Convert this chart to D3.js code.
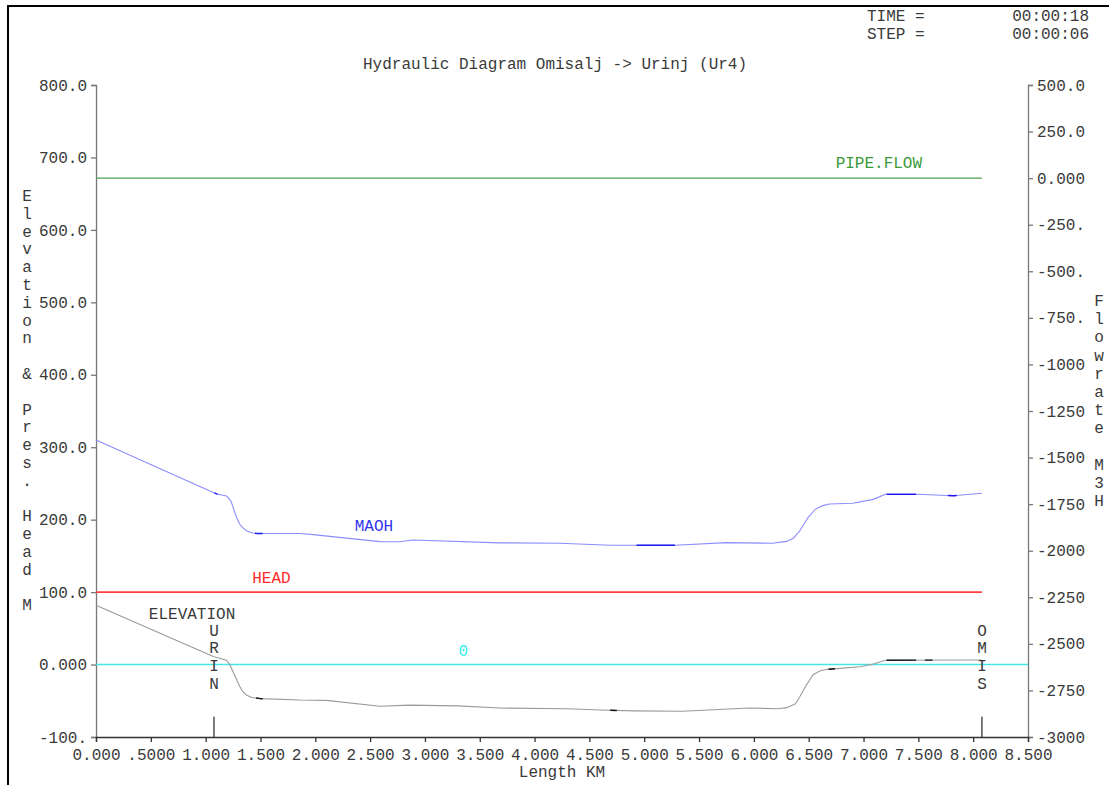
<!DOCTYPE html>
<html><head><meta charset="utf-8">
<script src="https://cdn.jsdelivr.net/npm/d3@7/dist/d3.min.js"></script>
<style>
body{margin:0;background:#fff}
svg{display:block}
text{font-family:"Liberation Mono","Courier New",monospace;font-size:16px;fill:#3a3a3a}
</style>
</head><body>
<svg id="c" width="1109" height="785"></svg>
<script>
// ---------- data ----------
const title = "Hydraulic Diagram Omisalj -> Urinj (Ur4)";
const headerLabels = ["TIME =", "STEP ="];
const headerValues = ["00:00:18", "00:00:06"];
const xTitle = "Length KM";
const leftTitle = "Elevation & Pres. Head M";
const rightTitle = "Flowrate M3H";

const xTicks = [0,0.5,1,1.5,2,2.5,3,3.5,4,4.5,5,5.5,6,6.5,7,7.5,8,8.5];
const xTickLabels = ["0.000",".5000","1.000","1.500","2.000","2.500","3.000","3.500","4.000","4.500","5.000","5.500","6.000","6.500","7.000","7.500","8.000","8.500"];
const leftTicks = [800,700,600,500,400,300,200,100,0,-100];
const leftTickLabels = ["800.0","700.0","600.0","500.0","400.0","300.0","200.0","100.0","0.000","-100."];
const rightTicks = [500,250,0,-250,-500,-750,-1000,-1250,-1500,-1750,-2000,-2250,-2500,-2750,-3000];
const rightTickLabels = ["500.0","250.0","0.000","-250.","-500.","-750.","-1000","-1250","-1500","-1750","-2000","-2250","-2500","-2750","-3000"];

// elevation profile [km, m]
const elevKm = [0,1.07,1.12,1.19,1.22,1.25,1.28,1.31,1.34,1.37,1.42,1.5,1.86,2.1,2.59,2.86,3.3,3.68,4.3,4.6,4.9,5.35,5.96,6.22,6.3,6.38,6.42,6.48,6.54,6.6,6.67,6.76,6.97,7.09,7.2,8.08];
const elevM  = [82,11,9,6,0,-10,-20,-30,-37.5,-42,-45.5,-47,-49,-49.5,-57.5,-56,-57,-60,-61,-62.7,-64,-64.5,-60,-61,-59.5,-54,-44,-28,-14,-9,-6.5,-5.6,-3,0.8,6,6.3];
// MAOH [km, m]
const maohKm = [0,1.1,1.19,1.23,1.28,1.31,1.34,1.38,1.43,1.465,1.86,1.98,2.59,2.77,2.89,3.68,4.23,4.69,5.28,5.75,6.17,6.3,6.36,6.42,6.49,6.56,6.62,6.69,6.9,7.09,7.2,7.49,7.82,8.08];
const maohM  = [310,235.5,232.7,226,204,194,188.6,184,181.5,181,181,179.3,169.7,169.5,172,168,167.5,164.7,164.7,168.3,167.4,170,174.3,185,202,214.4,219,221.7,222.7,228,235,235,233,236.5];
// darker node segments [km start, km end]
const maohMarks = [[1.08,1.11],[1.45,1.52],[4.93,5.28],[7.21,7.48],[7.77,7.85]];
const elevMarks = [[1.46,1.52],[4.69,4.75],[6.68,6.74],[7.21,7.48],[7.56,7.63]];

const headValue = 100;          // HEAD (m)
const zeroValue = 0;            // reference 0 (m)
const pipeFlowValue = 0;        // PIPE.FLOW (m3/h, right axis)
const pipeStart = 0, pipeEnd = 8.08;
const stations = [{name:"URIN", km:1.076},{name:"OMIS", km:8.08}];

// ---------- layout ----------
const svg = d3.select("#c");
const x = d3.scaleLinear().domain([0,8.5]).range([96,1028]);
const yL = d3.scaleLinear().domain([-100,800]).range([737,85]);
const yR = d3.scaleLinear().domain([-3000,500]).range([737,85]);

// frame
svg.append("rect").attr("x",8).attr("y",6).attr("width",1120).attr("height",800)
  .attr("fill","none").attr("stroke","#000").attr("stroke-width",2);

// header
headerLabels.forEach((t,i)=>{
  svg.append("text").attr("x",867).attr("y",21+i*18).text(t).attr("xml:space","preserve");
  svg.append("text").attr("x",1089).attr("y",21+i*18).attr("text-anchor","end").text(headerValues[i]);
});
svg.append("text").attr("x",555).attr("y",69).attr("text-anchor","middle").text(title);

// axes
const axisColor = "#777";
const gL = svg.append("g").attr("transform",`translate(${x(0)},0)`)
  .call(d3.axisLeft(yL).tickValues(leftTicks).tickSize(5).tickPadding(4)
    .tickFormat((d,i)=>leftTickLabels[i]));
const gR = svg.append("g").attr("transform",`translate(${x(8.5)},0)`)
  .call(d3.axisRight(yR).tickValues(rightTicks).tickSize(5).tickPadding(4)
    .tickFormat((d,i)=>rightTickLabels[i]));
const gX = svg.append("g").attr("transform",`translate(0,${yL(-100)})`)
  .call(d3.axisBottom(x).tickValues(xTicks).tickSize(5).tickPadding(4)
    .tickFormat((d,i)=>xTickLabels[i]));
[gL,gR,gX].forEach(g=>{
  g.select(".domain").attr("stroke",axisColor).attr("stroke-width",1.3);
  g.selectAll(".tick line").attr("stroke",axisColor).attr("stroke-width",1.3);
  g.selectAll("text").attr("fill","#3a3a3a").style("font-family",'"Liberation Mono","Courier New",monospace').style("font-size","16px");
});
gX.select(".domain").attr("stroke","#333");
gX.selectAll(".tick line").attr("stroke","#333");
gX.selectAll("text").attr("dy","0.9em");

svg.append("text").attr("x",562).attr("y",777).attr("text-anchor","middle").text(xTitle);

// vertical stacked titles
leftTitle.split("").forEach((c,i)=>{
  svg.append("text").attr("x",27).attr("y",201+i*17.8).attr("text-anchor","middle").text(c);
});
rightTitle.split("").forEach((c,i)=>{
  svg.append("text").attr("x",1099).attr("y",306+i*18.2).attr("text-anchor","middle").text(c);
});

// reference lines
svg.append("line").attr("x1",x(pipeStart)).attr("x2",x(pipeEnd))
  .attr("y1",yR(pipeFlowValue)).attr("y2",yR(pipeFlowValue))
  .attr("stroke","#4f9f4f").attr("stroke-width",1.2);
svg.append("text").attr("x",x(7.14)).attr("y",yR(pipeFlowValue)-10).attr("text-anchor","middle")
  .style("fill","#3a9a3a").text("PIPE.FLOW");

svg.append("line").attr("x1",x(0)).attr("x2",x(8.5))
  .attr("y1",yL(zeroValue)).attr("y2",yL(zeroValue))
  .attr("stroke","#44e6e6").attr("stroke-width",1.5);
svg.append("text").attr("x",x(3.35)).attr("y",yL(zeroValue)-9).attr("text-anchor","middle")
  .style("fill","#33eeee").text("0");

svg.append("line").attr("x1",x(pipeStart)).attr("x2",x(pipeEnd))
  .attr("y1",yL(headValue)).attr("y2",yL(headValue))
  .attr("stroke","#ff4040").attr("stroke-width",1.6);
svg.append("text").attr("x",x(1.6)).attr("y",yL(headValue)-9).attr("text-anchor","middle")
  .style("fill","#ff2a2a").text("HEAD");

// curves
const elevData = elevKm.map((k,i)=>[k,elevM[i]]);
const maohData = maohKm.map((k,i)=>[k,maohM[i]]);
const line = d3.line().x(d=>x(d[0])).y(d=>yL(d[1])).curve(d3.curveLinear);
svg.append("path").datum(elevData).attr("d",line).attr("fill","none")
  .attr("stroke","#9a9a9a").attr("stroke-width",1.1).attr("stroke-linejoin","round");
svg.append("path").datum(maohData).attr("d",line).attr("fill","none")
  .attr("stroke","#8c8cff").attr("stroke-width",1.1).attr("stroke-linejoin","round");

function interp(data,k){
  for(let i=1;i<data.length;i++){
    if(k<=data[i][0]){
      const a=data[i-1], b=data[i], t=(k-a[0])/(b[0]-a[0]);
      return a[1]+t*(b[1]-a[1]);
    }
  }
  return data[data.length-1][1];
}
function segs(data,marks,color){
  marks.forEach(([a,b])=>{
    const pts=[[a,interp(data,a)]].concat(data.filter(d=>d[0]>a&&d[0]<b)).concat([[b,interp(data,b)]]);
    svg.append("path").datum(pts).attr("d",d3.line().x(d=>x(d[0])).y(d=>yL(d[1])))
      .attr("fill","none").attr("stroke",color).attr("stroke-width",1.4);
  });
}
segs(maohData,maohMarks,"#1a1aee");
segs(elevData,elevMarks,"#111");

svg.append("text").attr("x",x(2.535)).attr("y",yL(interp(maohData,2.535))-10).attr("text-anchor","middle")
  .style("fill","#3333ee").text("MAOH");
svg.append("text").attr("x",x(0.876)).attr("y",yL(70)+5).attr("text-anchor","middle")
  .text("ELEVATION");

// stations
stations.forEach(s=>{
  svg.append("line").attr("x1",x(s.km)).attr("x2",x(s.km)).attr("y1",yL(-72)).attr("y2",yL(-100))
    .attr("stroke","#222").attr("stroke-width",1.2);
  s.name.split("").forEach((c,i)=>{
    svg.append("text").attr("x",x(s.km)).attr("y",yL(47)+5+i*17.8).attr("text-anchor","middle").text(c);
  });
});
</script>
</body></html>
